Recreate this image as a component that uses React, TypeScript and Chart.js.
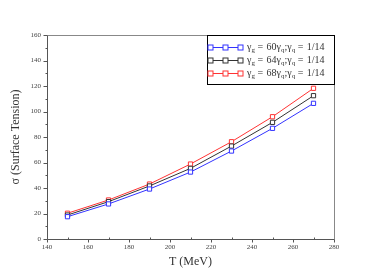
import { useEffect, useRef } from "react";
import { Chart, registerables } from "chart.js";

Chart.register(...registerables);

const temperatures = [150, 170, 190, 210, 230, 250, 270];
const sigmaBlue = [17.5, 27.5, 39.2, 52.5, 69.0, 86.8, 106.4];
const sigmaBlack = [18.8, 29.3, 41.6, 55.4, 72.9, 91.5, 112.4];
const sigmaRed = [20.2, 30.6, 43.1, 58.8, 76.3, 95.9, 118.2];
const seriesLabels = [
  "γ_g = 60γ_q;γ_q = 1/14",
  "γ_g = 64γ_q;γ_q = 1/14",
  "γ_g = 68γ_q;γ_q = 1/14",
];
const seriesColors = ["#3333ff", "#333333", "#ff3333"];
const xMin = 140;
const xMax = 280;
const yMin = 0;
const yMax = 160;
const xTitle = "T (MeV)";
const yTitle = "σ (Surface Tension)";

const FONT = "'Liberation Serif', 'DejaVu Serif', serif";

function drawRich(ctx: CanvasRenderingContext2D, text: string, x: number, y: number, size: number) {
  let cx = x;
  let i = 0;
  while (i < text.length) {
    const ch = text[i];
    if (ch === "_" && i + 1 < text.length) {
      const sub = text[i + 1];
      ctx.font = `${Math.round(size * 0.65)}px ${FONT}`;
      ctx.fillText(sub, cx, y + size * 0.25);
      cx += ctx.measureText(sub).width;
      i += 2;
    } else {
      ctx.font = `${size}px ${FONT}`;
      ctx.fillText(ch, cx, y);
      cx += ctx.measureText(ch).width + (ch === "=" ? 1 : 0);
      i += 1;
    }
  }
}

const decorPlugin = {
  id: "decor",
  afterDraw(chart: any) {
    const ctx: CanvasRenderingContext2D = chart.ctx;
    const { left, right, top, bottom } = chart.chartArea;
    const xs = chart.scales.x;
    const ys = chart.scales.y;
    ctx.save();
    ctx.lineWidth = 1;
    ctx.strokeStyle = "#888888";
    ctx.beginPath();
    ctx.moveTo(left + 0.5, top + 0.5);
    ctx.lineTo(right + 0.5, top + 0.5);
    ctx.lineTo(right + 0.5, bottom + 0.5);
    ctx.stroke();
    ctx.strokeStyle = "#555555";
    ctx.beginPath();
    ctx.moveTo(left + 0.5, top + 0.5);
    ctx.lineTo(left + 0.5, bottom + 0.5);
    ctx.lineTo(right + 0.5, bottom + 0.5);
    ctx.stroke();
    ctx.beginPath();
    for (let v = yMin; v <= yMax; v += 10) {
      const py = Math.round(ys.getPixelForValue(v)) + 0.5;
      const len = v % 20 === 0 ? 4 : 2;
      ctx.moveTo(left + 0.5, py);
      ctx.lineTo(left + 0.5 - len, py);
    }
    for (let v = xMin; v <= xMax; v += 10) {
      const px = Math.round(xs.getPixelForValue(v)) + 0.5;
      if (v % 20 === 0) {
        ctx.moveTo(px, bottom + 0.5);
        ctx.lineTo(px, bottom + 0.5 + 3);
      } else {
        ctx.moveTo(px, bottom + 0.5);
        ctx.lineTo(px, bottom + 0.5 - 2);
      }
    }
    ctx.stroke();
    // legend
    const bx = 207.5;
    const by = top + 0.5;
    const bw = right - 207;
    const bh = 49;
    ctx.fillStyle = "#ffffff";
    ctx.fillRect(bx, by, bw, bh);
    ctx.strokeStyle = "#000000";
    ctx.strokeRect(bx, by, bw, bh);
    const rowYs = [by + 11, by + 24, by + 37.5];
    chart.data.datasets.forEach((ds: any, i: number) => {
      const ry = Math.round(rowYs[i]) + 0.5;
      ctx.strokeStyle = ds.borderColor;
      ctx.lineWidth = 1;
      ctx.beginPath();
      ctx.moveTo(210, ry);
      ctx.lineTo(240, ry);
      ctx.stroke();
      [210.5, 225.5, 240.5].forEach((mx) => {
        ctx.fillStyle = "#ffffff";
        ctx.fillRect(mx - 2.5, ry - 2.5, 5, 5);
        ctx.strokeRect(mx - 2.5, ry - 2.5, 5, 5);
      });
      ctx.fillStyle = "#333333";
      ctx.textBaseline = "middle";
      ctx.textAlign = "left";
      drawRich(ctx, ds.label, 247, ry, 10);
    });
    ctx.restore();
  },
};

export default function App() {
  const ref = useRef<HTMLCanvasElement | null>(null);
  useEffect(() => {
    document.body.style.margin = "0";
    const canvas = ref.current;
    if (!canvas) return;
    const data = [sigmaBlue, sigmaBlack, sigmaRed];
    const chart = new Chart(canvas, {
      type: "line",
      data: {
        datasets: data.map((arr, i) => ({
          label: seriesLabels[i],
          data: arr.map((y, j) => ({ x: temperatures[j], y })),
          borderColor: seriesColors[i],
          backgroundColor: "#ffffff",
          borderWidth: 1,
          pointStyle: "rect",
          pointRadius: 3,
          pointBorderWidth: 1,
          pointBackgroundColor: "#ffffff",
          pointBorderColor: seriesColors[i],
          tension: 0,
          fill: false,
        })),
      },
      options: {
        animation: false,
        responsive: false,
        maintainAspectRatio: false,
        layout: { padding: { top: 35, right: 48, left: 0, bottom: 0 } },
        plugins: { legend: { display: false }, tooltip: { enabled: false } },
        scales: {
          x: {
            type: "linear",
            min: xMin,
            max: xMax,
            border: { display: false },
            grid: { display: false, drawTicks: false },
            ticks: {
              stepSize: 20,
              padding: 4,
              color: "#444444",
              font: { family: FONT, size: 7 },
            },
            title: {
              display: true,
              text: xTitle,
              color: "#333333",
              font: { family: FONT, size: 12 },
              padding: { top: 0, bottom: 5 },
            },
            afterFit: (s: any) => {
              s.height = 35;
            },
          },
          y: {
            type: "linear",
            min: yMin,
            max: yMax,
            border: { display: false },
            grid: { display: false, drawTicks: false },
            ticks: {
              stepSize: 20,
              padding: 6,
              color: "#444444",
              font: { family: FONT, size: 7 },
            },
            title: {
              display: true,
              text: yTitle,
              color: "#333333",
              font: { family: FONT, size: 12 },
              padding: { top: 9, bottom: 0 },
            },
            afterFit: (s: any) => {
              s.width = 47;
            },
          },
        },
      },
      plugins: [decorPlugin],
    });
    return () => chart.destroy();
  }, []);
  return (
    <div style={{ position: "fixed", left: 0, top: 0, width: 382, height: 274 }}>
      <canvas ref={ref} width={382} height={274} style={{ width: 382, height: 274 }} />
    </div>
  );
}
